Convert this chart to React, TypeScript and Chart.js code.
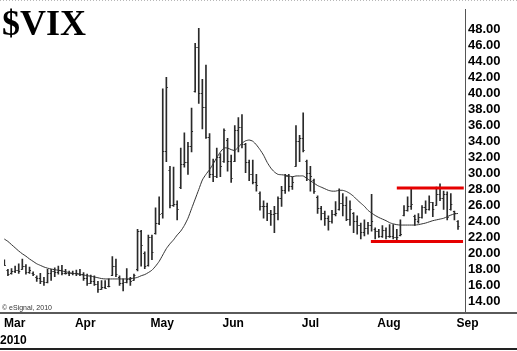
import React, { useEffect, useRef } from "react";
import { Chart, registerables } from "chart.js";

Chart.register(...registerables);

// Trading days: index 0 = 4 Mar 2010 ... index 126 = 1 Sep 2010
const highs = [
  19.2, 18.0, 18.1, 18.4, 18.7, 19.3, 18.6, 18.3, 17.7, 17.2,
  17.5, 17.0, 18.0, 18.0, 18.2, 18.4, 18.5, 18.0, 17.8, 17.8,
  17.9, 18.0, 17.6, 17.4, 17.3, 17.2, 16.5, 16.6, 16.6, 16.8,
  19.6, 19.3, 17.2, 16.8, 18.1, 17.0, 17.4, 23.0, 22.9, 20.2,
  22.3, 22.3, 25.7, 27.1, 40.6, 42.05, 30.9, 30.8, 26.6, 33.2,
  35.1, 33.9, 38.2, 46.3, 48.2, 41.8, 43.6, 35.0, 31.8, 33.2,
  32.5, 35.6, 34.4, 32.3, 36.0, 37.0, 37.4, 33.8, 31.7, 31.7,
  29.9, 27.7, 26.6, 26.3, 25.4, 25.9, 27.1, 28.4, 29.9, 29.9,
  29.6, 36.0, 34.8, 37.6, 31.7, 30.9, 29.3, 27.2, 25.9, 25.3,
  24.7, 25.4, 26.5, 28.1, 27.5, 27.1, 26.6, 25.1, 24.7, 23.8,
  24.2, 23.9, 27.4, 23.2, 23.0, 23.5, 23.2, 23.6, 23.6, 23.0,
  24.2, 26.0, 27.1, 28.1, 24.8, 25.0, 26.0, 26.6, 27.2, 26.4,
  28.3, 28.7, 27.8, 27.7, 27.5, 25.3, 24.1,
];
const lows = [
  18.5, 17.2, 17.4, 17.6, 17.5, 18.0, 17.4, 17.5, 17.2, 16.5,
  16.2, 16.0, 16.3, 16.6, 17.1, 17.4, 17.3, 17.4, 17.2, 17.3,
  17.2, 17.2, 16.6, 16.0, 16.2, 16.0, 15.1, 15.5, 15.6, 15.8,
  17.2, 17.1, 16.0, 15.3, 16.3, 16.0, 16.6, 17.8, 18.4, 18.1,
  18.4, 19.2, 22.4, 23.6, 24.4, 31.5, 25.7, 25.9, 24.2, 28.1,
  30.8, 29.9, 32.7, 40.2, 38.8, 35.6, 34.4, 29.5, 29.0, 29.5,
  29.6, 31.4, 30.3, 28.9, 31.5, 32.7, 33.2, 30.1, 29.1, 28.7,
  27.8, 25.4, 24.4, 24.1, 23.5, 22.6, 24.2, 25.9, 27.5, 27.8,
  28.0, 30.9, 31.5, 32.7, 29.1, 27.8, 27.5, 25.0, 24.2, 23.5,
  22.9, 23.8, 24.7, 25.4, 24.7, 24.1, 23.5, 22.6, 22.4, 21.8,
  22.2, 22.4, 22.8, 21.8, 22.0, 22.0, 21.8, 22.0, 21.8, 21.4,
  22.2, 24.7, 25.3, 25.5, 23.5, 23.8, 24.4, 25.0, 25.4, 24.6,
  26.0, 26.6, 25.5, 24.2, 25.4, 24.2, 23.0,
];
const opens = [
  18.9, 17.9, 17.5, 17.8, 17.9, 18.1, 18.4, 17.7, 17.6, 17.1,
  16.9, 16.6, 16.4, 17.6, 17.8, 17.7, 17.9, 17.6, 17.6, 17.5,
  17.6, 17.5, 17.4, 16.9, 16.3, 16.5, 16.2, 15.6, 15.8, 15.9,
  17.3, 18.4, 17.1, 16.3, 16.4, 16.8, 16.7, 18.0, 22.8, 20.0,
  18.6, 22.1, 22.5, 23.8, 25.0, 32.8, 30.5, 26.1, 26.2, 28.3,
  31.2, 31.5, 33.5, 40.4, 45.8, 40.1, 38.3, 34.6, 30.0, 29.7,
  32.1, 31.6, 34.2, 31.6, 31.6, 35.5, 35.8, 33.7, 31.5, 30.0,
  29.0, 27.6, 25.9, 25.9, 25.1, 24.9, 25.0, 26.9, 27.9, 29.7,
  28.5, 31.0, 34.1, 34.5, 31.6, 30.1, 29.2, 27.1, 25.7, 25.0,
  24.4, 24.0, 24.9, 25.5, 26.3, 26.0, 24.3, 25.0, 24.1, 23.5,
  22.7, 23.2, 23.6, 23.1, 22.8, 22.2, 22.9, 22.2, 22.2, 22.0,
  22.3, 24.8, 25.4, 25.9, 24.7, 24.0, 24.6, 25.8, 25.5, 26.4,
  26.1, 27.5, 27.0, 27.4, 25.5, 25.3, 24.1,
];
const closes = [
  18.6, 17.4, 17.8, 17.9, 17.8, 18.4, 17.7, 17.9, 17.4, 16.9,
  16.6, 16.4, 17.6, 17.8, 17.7, 17.9, 17.6, 17.6, 17.5, 17.6,
  17.5, 17.4, 16.9, 16.3, 16.5, 16.2, 15.6, 15.8, 15.7, 15.9,
  18.4, 17.4, 16.3, 16.4, 16.8, 16.6, 17.3, 22.8, 21.1, 18.4,
  22.1, 20.2, 23.8, 24.9, 32.8, 40.9, 26.0, 26.2, 25.6, 31.2,
  31.5, 33.5, 35.3, 45.8, 40.1, 38.3, 34.6, 30.0, 29.7, 32.1,
  31.0, 35.5, 31.6, 29.5, 35.5, 35.8, 33.7, 31.5, 30.0, 29.0,
  28.6, 25.9, 25.9, 25.1, 24.9, 25.0, 26.9, 27.9, 29.7, 28.5,
  29.0, 34.1, 34.5, 32.9, 30.1, 29.7, 27.8, 25.7, 25.0, 24.4,
  24.0, 24.9, 25.1, 26.3, 26.0, 24.3, 25.6, 24.1, 23.5, 22.7,
  23.2, 23.6, 24.1, 22.8, 22.2, 22.9, 22.2, 22.2, 22.0, 22.1,
  22.4, 25.4, 25.9, 26.2, 24.3, 24.6, 25.8, 25.5, 26.4, 25.5,
  27.5, 27.0, 27.4, 24.5, 26.2, 25.1, 23.4,
];
// Moving average line (one value per bar)
const movingAvg = [
  21.8, 21.5, 21.1, 20.7, 20.3, 19.95, 19.65, 19.3, 19.0, 18.7,
  18.5, 18.3, 18.15, 18.05, 17.95, 17.9, 17.8, 17.7, 17.6, 17.5,
  17.45, 17.35, 17.3, 17.2, 17.15, 17.05, 16.95, 16.85, 16.8, 16.8,
  16.8, 16.8, 16.8, 16.8, 16.8, 16.85, 16.9, 17.0, 17.2, 17.35,
  17.6, 17.9, 18.4, 19.0, 19.8, 20.6, 21.2, 21.7, 22.3, 22.8,
  23.5, 24.4, 25.6, 26.8, 28.0, 29.2, 29.9, 30.5, 31.2, 32.0,
  32.7, 33.2, 33.2, 33.0, 32.9, 33.3, 33.8, 34.1, 34.2, 34.05,
  33.6, 33.0, 32.3, 31.4, 30.7, 30.2, 29.9, 29.85, 29.8, 29.7,
  29.6, 29.7, 29.7, 29.7, 29.4, 29.1, 28.8, 28.5, 28.3, 28.1,
  27.9, 27.8, 27.8, 27.9, 27.9, 27.75, 27.5, 27.15, 26.7, 26.3,
  25.9, 25.4, 25.05, 24.75, 24.5, 24.3, 24.1, 23.85, 23.7, 23.6,
  23.55, 23.55, 23.55, 23.55, 23.55, 23.6, 23.7, 23.8, 23.95, 24.1,
  24.2, 24.3, 24.4, 24.6, 24.8, 24.95, 25.0,
];

// Month labels and the bar index of each month's first trading day
const monthLabels = ["Mar", "Apr", "May", "Jun", "Jul", "Aug", "Sep"];
const monthStartIdx = [-3, 20, 41, 61, 83, 104, 126];

// Right-hand price axis ticks
const yTickValues = [14, 16, 18, 20, 22, 24, 26, 28, 30, 32, 34, 36, 38, 40, 42, 44, 46, 48];

// Red trading-range lines: level, start index, end index
const rangeLevels = [28.2, 21.5];
const rangeStart = [109, 101.8];
const rangeEnd = [127.6, 127.4];

const X_MIN = -0.09;
const X_MAX = 127.94;
const Y_MIN = 12.66;
const Y_MAX = 50.55;

const FONT = '"Liberation Sans", Arial, sans-serif';
const BAR_COLOR = "#2a2a2a";

const ohlcTicks = {
  id: "ohlcTicks",
  afterDatasetsDraw(chart: any) {
    const xs = chart.scales.x;
    const ys = chart.scales.y;
    const ctx = chart.ctx;
    const a = chart.chartArea;
    ctx.save();
    ctx.beginPath();
    ctx.rect(a.left, a.top, a.right - a.left, a.bottom - a.top);
    ctx.clip();
    ctx.strokeStyle = BAR_COLOR;
    ctx.lineWidth = 1;
    ctx.beginPath();
    for (let i = 0; i < closes.length; i++) {
      const x = xs.getPixelForValue(i);
      const yo = Math.round(ys.getPixelForValue(opens[i])) + 0.5;
      const yc = Math.round(ys.getPixelForValue(closes[i])) + 0.5;
      ctx.moveTo(x - 1.5, yo);
      ctx.lineTo(x, yo);
      ctx.moveTo(x, yc);
      ctx.lineTo(x + 1.5, yc);
    }
    ctx.stroke();
    ctx.restore();
  },
};

const frame = {
  id: "frame",
  afterDraw(chart: any) {
    const ctx = chart.ctx;
    const a = chart.chartArea;
    const w = chart.width;
    ctx.save();
    ctx.strokeStyle = "#b8b8b8";
    ctx.lineWidth = 1;
    ctx.setLineDash([1, 2]);
    ctx.beginPath();
    ctx.moveTo(0, 0.5);
    ctx.lineTo(w, 0.5);
    ctx.stroke();
    ctx.setLineDash([]);
    ctx.strokeStyle = "#5a5a5a";
    ctx.lineWidth = 2;
    ctx.beginPath();
    ctx.moveTo(0, a.bottom + 1);
    ctx.lineTo(w, a.bottom + 1);
    ctx.stroke();
    ctx.strokeStyle = "#222";
    ctx.lineWidth = 2;
    ctx.beginPath();
    ctx.moveTo(0, chart.height - 2);
    ctx.lineTo(w, chart.height - 2);
    ctx.stroke();
    ctx.restore();
  },
};

export default function App() {
  const ref = useRef<HTMLCanvasElement | null>(null);

  useEffect(() => {
    if (!ref.current) return;
    const barData = highs.map((h, i) => ({ x: i, y: [lows[i], h] }));
    const maData = movingAvg.map((v, i) => ({ x: i, y: v }));
    const rangeSets = rangeLevels.map((lvl, k) => ({
      type: "line" as const,
      data: [
        { x: rangeStart[k], y: lvl },
        { x: rangeEnd[k], y: lvl },
      ],
      borderColor: "#e60000",
      borderWidth: 3,
      pointRadius: 0,
      order: 0,
    }));

    const chart = new Chart(ref.current, {
      type: "bar",
      data: {
        datasets: [
          {
            type: "bar",
            data: barData as any,
            backgroundColor: BAR_COLOR,
            borderWidth: 0,
            barThickness: 1,
            order: 2,
          } as any,
          {
            type: "line",
            data: maData,
            borderColor: "#333",
            borderWidth: 1,
            pointRadius: 0,
            tension: 0.2,
            order: 1,
          } as any,
          ...(rangeSets as any[]),
        ],
      },
      options: {
        animation: false,
        responsive: false,
        devicePixelRatio: 1,
        layout: { padding: 0 },
        plugins: {
          legend: { display: false },
          tooltip: { enabled: false },
          title: { display: false },
        },
        scales: {
          x: {
            type: "linear",
            min: X_MIN,
            max: X_MAX,
            offset: false,
            afterBuildTicks: (s: any) => {
              s.ticks = monthStartIdx.map((m) => ({ value: Math.max(X_MIN, m - 0.4) }));
            },
            afterFit: (s: any) => {
              s.height = 39;
            },
            grid: { display: false, drawTicks: false },
            border: { display: false },
            ticks: {
              align: "start",
              autoSkip: false,
              maxRotation: 0,
              padding: 4,
              color: "#000",
              font: { family: FONT, size: 12, weight: "bold" },
              callback: (_v: any, i: number) => monthLabels[i],
            },
          },
          y: {
            type: "linear",
            position: "right",
            min: Y_MIN,
            max: Y_MAX,
            afterBuildTicks: (s: any) => {
              s.ticks = yTickValues.map((v) => ({ value: v }));
            },
            afterFit: (s: any) => {
              s.width = 52;
            },
            grid: { display: false, drawTicks: false },
            border: { display: true, color: "#555", width: 1 },
            ticks: {
              autoSkip: false,
              padding: 3,
              color: "#000",
              font: { family: FONT, size: 13, weight: "bold", lineHeight: 1 },
              callback: (v: any) => Number(v).toFixed(2),
            },
          },
        },
      } as any,
      plugins: [ohlcTicks, frame],
    });
    return () => chart.destroy();
  }, []);

  return (
    <div
      style={{
        position: "fixed",
        left: 0,
        top: 0,
        width: 517,
        height: 351,
        background: "#fff",
        overflow: "hidden",
      }}
    >
      <canvas ref={ref} width={517} height={351} style={{ display: "block" }} />
      <div
        style={{
          position: "absolute",
          left: 2,
          top: 5,
          fontFamily: '"Liberation Serif", "Times New Roman", serif',
          fontWeight: "bold",
          fontSize: 36,
          lineHeight: "36px",
          color: "#000",
          whiteSpace: "nowrap",
        }}
      >
        $VIX
      </div>
      <div
        style={{
          position: "absolute",
          left: 2,
          top: 304,
          fontFamily: FONT,
          fontSize: 7,
          lineHeight: "7px",
          color: "#333",
          whiteSpace: "nowrap",
        }}
      >
        © eSignal, 2010
      </div>
      <div
        style={{
          position: "absolute",
          left: 0,
          top: 334,
          fontFamily: FONT,
          fontWeight: "bold",
          fontSize: 12,
          lineHeight: "12px",
          color: "#000",
          whiteSpace: "nowrap",
        }}
      >
        2010
      </div>
    </div>
  );
}
